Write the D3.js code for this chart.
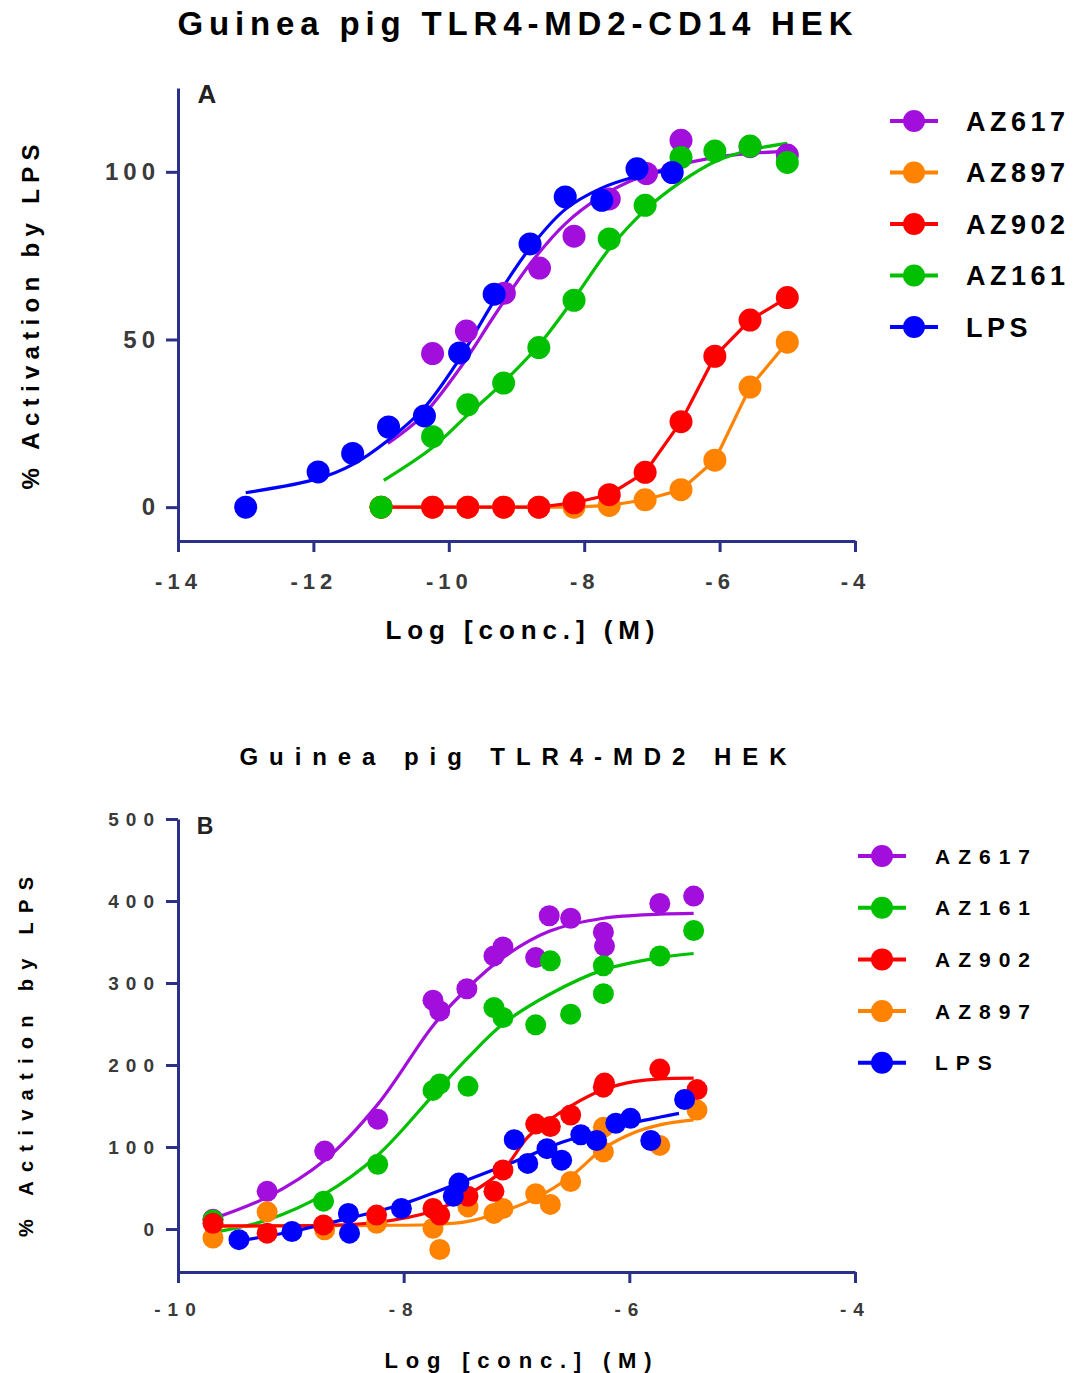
<!DOCTYPE html>
<html>
<head>
<meta charset="utf-8">
<script src="https://cdn.jsdelivr.net/npm/d3@7"></script>
<style>
  body { margin: 0; background: #fff; }
  svg { display: block; }
</style>
</head>
<body>
<div id="wrapper"></div>
<script>

// ---------- Panel A: Guinea pig TLR4-MD2-CD14 HEK ----------
// points are [log conc (M), % activation by LPS]
const legendA = ["AZ617", "AZ897", "AZ902", "AZ161", "LPS"]

const az617A = [[-10.24,45.8],[-9.74,52.5],[-9.18,63.8],[-8.66,71.3],[-8.15,80.8],[-7.63,91.9],[-7.08,99.5],[-6.57,109.4],[-5.55,107.5],[-5.0,105]]
const az897A = [[-11.0,0],[-10.24,0],[-9.72,0],[-9.19,0],[-8.67,0],[-8.15,0],[-7.63,0.5],[-7.1,2.2],[-6.57,5.2],[-6.07,14],[-5.55,35.8],[-5.0,49.2]]
const az902A = [[-11.0,0],[-10.24,0],[-9.72,0],[-9.19,0],[-8.67,0],[-8.15,1.3],[-7.63,3.7],[-7.1,10.4],[-6.57,25.5],[-6.07,45],[-5.55,55.8],[-5.0,62.5]]
const az161A = [[-11.0,0],[-10.24,21],[-9.72,30.5],[-9.19,37],[-8.67,47.6],[-8.15,61.7],[-7.63,80],[-7.1,90],[-6.57,104.3],[-6.07,106.2],[-5.55,107.7],[-5.0,102.8]]
const lpsA   = [[-13.0,0],[-11.93,10.5],[-11.42,16],[-10.89,23.9],[-10.36,27.2],[-9.84,46],[-9.33,63.5],[-8.8,78.5],[-8.28,92.5],[-7.74,91.5],[-7.22,100.9],[-6.7,99.8]]

// fitted curves (AZ897 / AZ902 are joined point to point)
const az617FitA = [[-10.9,19],[-10.4,27],[-9.85,41],[-9.33,57],[-8.8,72.5],[-8.28,84.5],[-7.76,92.5],[-7.23,98],[-6.7,101.5],[-6.07,104.3],[-5.55,105.5],[-4.95,106.2]]
const az161FitA = [[-10.96,8],[-10.24,17.8],[-9.72,27.5],[-9.19,37.3],[-8.67,48.3],[-8.15,62.2],[-7.63,77],[-7.1,88.6],[-6.57,97],[-6.07,103],[-5.55,106.5],[-5.0,108.5]]
const lpsFitA   = [[-13.0,4.3],[-11.93,8.5],[-11.43,12.6],[-10.9,19.9],[-10.37,29.5],[-9.85,44],[-9.33,61.5],[-8.8,77.3],[-8.28,88.8],[-7.76,95],[-7.23,98.6],[-6.7,100.6]]

const xTicksA = [-14, -12, -10, -8, -6, -4]
const yTicksA = [0, 50, 100]

// ---------- Panel B: Guinea pig TLR4-MD2 HEK ----------
const legendB = ["AZ617", "AZ161", "AZ902", "AZ897", "LPS"]

const az617B = [[-9.69,12],[-9.21,46],[-8.7,95],[-8.23,134],[-7.74,279],[-7.68,266],[-7.44,293],[-7.2,333],[-7.12,344],[-6.83,331],[-6.71,382],[-6.52,379],[-6.23,362],[-6.22,345],[-5.73,397],[-5.43,406]]
const az161B = [[-9.69,11],[-8.71,34],[-8.23,79],[-7.74,169],[-7.68,177],[-7.43,174],[-7.2,270],[-7.12,258],[-6.83,249],[-6.7,327],[-6.52,262],[-6.23,287],[-6.23,321],[-5.73,333],[-5.43,364]]
const az902B = [[-9.69,7],[-9.21,-5],[-8.71,5],[-8.24,17],[-7.74,25],[-7.68,17],[-7.43,40],[-7.2,46],[-7.12,72],[-6.83,128],[-6.7,125],[-6.52,139],[-6.23,173],[-6.22,178],[-5.73,195],[-5.4,170]]
const az897B = [[-9.69,-11],[-9.21,21],[-8.7,-1],[-8.24,7],[-7.74,1],[-7.68,-25],[-7.43,27],[-7.2,19],[-7.12,25],[-6.83,43],[-6.7,30],[-6.52,58],[-6.23,94],[-6.23,124],[-5.73,102],[-5.4,145]]
const lpsB   = [[-9.46,-13],[-8.99,-3],[-8.49,19],[-8.48,-5],[-8.02,25],[-7.56,40],[-7.51,56],[-7.02,109],[-6.9,80],[-6.73,98],[-6.6,84],[-6.43,115],[-6.29,108],[-6.12,129],[-5.99,135],[-5.81,108],[-5.51,158]]

const az617FitB = [[-9.68,13],[-9.21,39],[-8.7,84],[-8.23,152],[-7.74,248],[-7.44,293],[-7.12,331],[-6.71,363],[-6.23,379],[-5.73,384],[-5.43,385]]
const az161FitB = [[-9.68,-4],[-9.21,11],[-8.71,42],[-8.23,90],[-7.74,163],[-7.43,209],[-7.12,250],[-6.71,286],[-6.23,316],[-5.73,331],[-5.43,336]]
const az902FitB = [[-9.68,4],[-9.21,4],[-8.71,4.5],[-8.24,8],[-7.74,22],[-7.43,42],[-7.12,72],[-6.9,112],[-6.71,133],[-6.52,150],[-6.23,170],[-5.95,180],[-5.73,183],[-5.43,184]]
const az897FitB = [[-9.68,3],[-9.21,3.5],[-8.71,4],[-8.24,4.5],[-7.74,5.5],[-7.43,9.3],[-7.12,21.5],[-6.83,37.7],[-6.52,64],[-6.23,98],[-5.95,118],[-5.73,127],[-5.43,133]]
const lpsFitB   = [[-9.48,-15],[-8.99,-3],[-8.49,13],[-8.02,30],[-7.51,56],[-7.02,82],[-6.59,106],[-6.11,125],[-5.56,141]]

const xTicksB = [-10, -8, -6, -4]
const yTicksB = [0, 100, 200, 300, 400, 500]

// ---------- styling ----------
const colors = { AZ617: "#a20fdc", AZ897: "#ff8300", AZ902: "#ff0000", AZ161: "#00c000", LPS: "#0000ff" }
const axisColor = "#2b3188"
const font = "'Liberation Sans', Arial, Helvetica, sans-serif"

const svg = d3.select("#wrapper")
  .append("svg")
    .attr("width", 1086)
    .attr("height", 1373)

function addText(txt, x, y, size, opts = {}) {
  const t = svg.append("text")
    .attr("x", x).attr("y", y)
    .attr("font-family", font)
    .attr("font-weight", "bold")
    .attr("font-size", size)
    .attr("fill", opts.fill || "#000")
    .attr("text-anchor", opts.anchor || "middle")
    .text(txt)
  if (opts.len) t.attr("textLength", opts.len).attr("lengthAdjust", "spacing")
  if (opts.rotate) t.attr("transform", `rotate(-90, ${x}, ${y})`)
  if (opts.ls) t.style("letter-spacing", opts.ls + "px")
  return t
}

function drawPanel(p) {
  const x = d3.scaleLinear().domain(p.xDomain).range([178, 855])
  const y = d3.scaleLinear().domain(p.yDomain).range([p.bottom, p.top])
  const g = svg.append("g")

  const xAxis = d3.axisBottom(x)
    .tickValues(p.xTicks)
    .tickFormat(d => String(d))
    .tickSize(11)
    .tickSizeOuter(0)
    .tickPadding(p.xPad)
  const yAxis = d3.axisLeft(y)
    .tickValues(p.yTicks)
    .tickFormat(d => String(d))
    .tickSize(12)
    .tickSizeOuter(0)
    .tickPadding(p.yPad)

  const gx = g.append("g").attr("transform", `translate(0,${p.bottom})`).call(xAxis)
  const gy = g.append("g").attr("transform", "translate(178,0)").call(yAxis)
  ;[gx, gy].forEach(a => {
    a.select(".domain").attr("stroke", axisColor).attr("stroke-width", 3)
    a.selectAll(".tick line").attr("stroke", axisColor).attr("stroke-width", 3)
    a.selectAll(".tick text")
      .attr("font-family", font)
      .attr("font-weight", "bold")
      .attr("fill", "#3a3a3a")
  })
  gx.selectAll(".tick text").attr("font-size", p.xTickSize).style("letter-spacing", p.xTickLs + "px")
  gy.selectAll(".tick text").attr("font-size", p.yTickSize).style("letter-spacing", p.yTickLs + "px")

  // curves
  p.order.forEach(name => {
    const line = d3.line()
      .x(d => x(d[0]))
      .y(d => y(d[1]))
      .curve(p.smooth[name] ? d3.curveCatmullRom.alpha(0.5) : d3.curveLinear)
    g.append("path")
      .datum(p.fits[name])
      .attr("d", line)
      .attr("fill", "none")
      .attr("stroke", colors[name])
      .attr("stroke-width", 3.2)
  })

  // points
  p.order.forEach(name => {
    g.append("g").selectAll("circle")
      .data(p.points[name])
      .join("circle")
        .attr("cx", d => x(d[0]))
        .attr("cy", d => y(d[1]))
        .attr("r", p.r)
        .attr("fill", colors[name])
  })

  // legend
  p.legend.forEach((name, i) => {
    const cy = p.legendY + i * p.legendStep
    const lg = svg.append("g")
    lg.append("line")
      .attr("x1", p.legendX - 24).attr("x2", p.legendX + 24)
      .attr("y1", cy).attr("y2", cy)
      .attr("stroke", colors[name]).attr("stroke-width", 4)
    lg.append("circle").attr("cx", p.legendX).attr("cy", cy).attr("r", 11).attr("fill", colors[name])
    addText(name, p.legendX + p.legendGap, cy + p.legendFont * 0.36, p.legendFont,
      { anchor: "start", ls: p.legendLs })
  })
}

// 1. Panel A
drawPanel({
  xDomain: [-14, -4], yDomain: [-10.1, 125], top: 88, bottom: 541,
  xTicks: xTicksA, yTicks: yTicksA,
  xPad: 21, yPad: 6, xTickSize: 22, xTickLs: 5, yTickSize: 24, yTickLs: 5,
  order: ["AZ897", "AZ902", "AZ617", "AZ161", "LPS"],
  points: { AZ617: az617A, AZ897: az897A, AZ902: az902A, AZ161: az161A, LPS: lpsA },
  fits: { AZ617: az617FitA, AZ897: az897A, AZ902: az902A, AZ161: az161FitA, LPS: lpsFitA },
  smooth: { AZ617: true, AZ897: false, AZ902: false, AZ161: true, LPS: true },
  r: 11.5,
  legend: legendA, legendX: 914, legendY: 121, legendStep: 51.5, legendGap: 52, legendFont: 27, legendLs: 4.5,
})
addText("Guinea pig TLR4-MD2-CD14 HEK", 515, 35, 33, { len: 675 })
addText("A", 207, 103, 26, { fill: "#222" })
addText("% Activation by LPS", 39, 317, 24, { rotate: true, len: 345 })
addText("Log [conc.] (M)", 520, 639, 26, { len: 269 })

// 2. Panel B
drawPanel({
  xDomain: [-10, -4], yDomain: [-52.4, 500], top: 819, bottom: 1272,
  xTicks: xTicksB, yTicks: yTicksB,
  xPad: 20, yPad: 5, xTickSize: 19, xTickLs: 7, yTickSize: 19, yTickLs: 7,
  order: ["AZ617", "AZ161", "AZ897", "AZ902", "LPS"],
  points: { AZ617: az617B, AZ897: az897B, AZ902: az902B, AZ161: az161B, LPS: lpsB },
  fits: { AZ617: az617FitB, AZ897: az897FitB, AZ902: az902FitB, AZ161: az161FitB, LPS: lpsFitB },
  smooth: { AZ617: true, AZ897: true, AZ902: true, AZ161: true, LPS: true },
  r: 10.5,
  legend: legendB, legendX: 882, legendY: 856, legendStep: 51.7, legendGap: 53, legendFont: 21, legendLs: 8,
})
addText("Guinea pig TLR4-MD2 HEK", 513, 765, 24, { len: 547 })
addText("B", 205, 834, 23, { fill: "#222" })
addText("% Activation by LPS", 33, 1057, 20, { rotate: true, len: 360 })
addText("Log [conc.] (M)", 518, 1368, 22, { len: 267 })

</script>
</body>
</html>
